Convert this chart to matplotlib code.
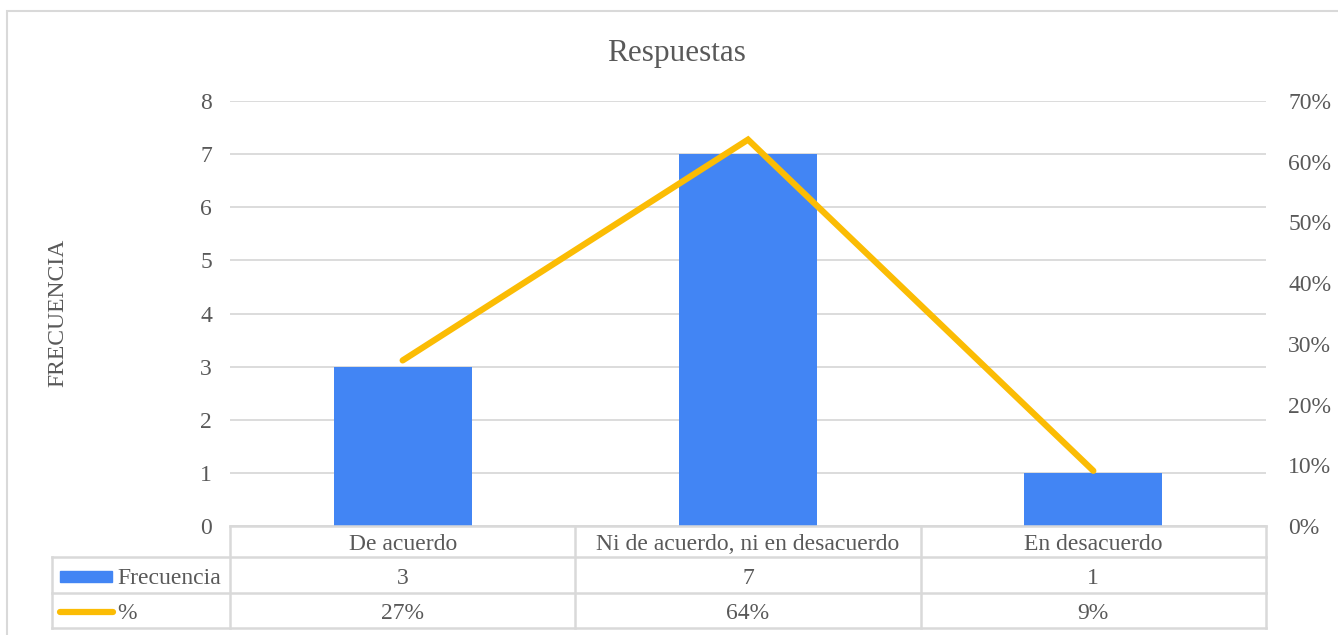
import matplotlib
matplotlib.use("Agg")
import matplotlib.pyplot as plt
from matplotlib.lines import Line2D
from matplotlib.patches import Rectangle
from matplotlib.ticker import PercentFormatter
from matplotlib.transforms import blended_transform_factory

# Survey responses
categories = ["De acuerdo", "Ni de acuerdo, ni en desacuerdo", "En desacuerdo"]
frecuencia = [3, 7, 1]
porcentaje = [3 / 11, 7 / 11, 1 / 11]
pct_labels = ["27%", "64%", "9%"]

W, H = 1338, 635
plt.rcParams["font.family"] = ["Liberation Serif", "DejaVu Serif"]
TXT = "#595959"
GRID = "#D9D9D9"
BLUE = "#4285F4"
GOLD = "#FBBC04"

fig = plt.figure(figsize=(W / 100, H / 100), dpi=100)


def fx(px):
    return px / W


def fy(py):
    return 1 - py / H


# Plot area
left, right, top, bottom = 230, 1266, 101, 526
ax = fig.add_axes([fx(left), fy(bottom), fx(right - left), (bottom - top) / H])
x = list(range(len(categories)))
ax.bar(x, frecuencia, width=0.4, color=BLUE, zorder=3)
ax.set_xlim(-0.5, len(categories) - 0.5)
ax.set_ylim(0, 8)
ax.set_yticks(range(0, 9))
ax.grid(axis="y", color=GRID, linewidth=1.3, zorder=0)
ax.set_xticks([])
for s in ax.spines.values():
    s.set_visible(False)
ax.tick_params(axis="y", length=0, labelsize=17, labelcolor=TXT, pad=13)

ax2 = ax.twinx()
ax2.plot(x, porcentaje, color=GOLD, linewidth=4.5, solid_capstyle="round",
         solid_joinstyle="miter", zorder=4)
ax2.set_ylim(0, 0.7)
ax2.set_yticks([i / 10 for i in range(8)])
ax2.yaxis.set_major_formatter(PercentFormatter(1.0, decimals=0))
for s in ax2.spines.values():
    s.set_visible(False)
ax2.tick_params(axis="y", length=0, labelsize=17, labelcolor=TXT, pad=16)

fig.text(fx(58), fy(313), "FRECUENCIA", rotation=90, ha="center",
         va="center", fontsize=17, color=TXT)

fig.text(0.5 + fx(8), fy(54), "Respuestas", ha="center", va="center",
         fontsize=22.5, color=TXT)

# Outer chart border
fig.patches.append(Rectangle((fx(7), fy(645)), fx(1345 - 7), (645 - 11) / H,
                             transform=fig.transFigure, fill=False,
                             edgecolor=GRID, linewidth=1.5))

# Data table below the plot
row_cat, row_f, row_p, row_end = 526, 557, 593, 628
tleft = 52
col_edges = [left + i * (right - left) / len(categories) for i in range(len(categories) + 1)]


def hline(y, x0, x1):
    fig.add_artist(Line2D([fx(x0), fx(x1)], [fy(y), fy(y)], color=GRID,
                          linewidth=1.8, transform=fig.transFigure))


def vline(xp, y0, y1):
    fig.add_artist(Line2D([fx(xp), fx(xp)], [fy(y0), fy(y1)], color=GRID,
                          linewidth=1.8, transform=fig.transFigure))


hline(row_cat, left, right)
for yy in (row_f, row_p, row_end):
    hline(yy, tleft, right)
for xe in col_edges:
    vline(xe, row_cat, row_end)
vline(tleft, row_f, row_end)

shift = 3  # nudge table text down slightly within its rows
bt = blended_transform_factory(ax.transData, fig.transFigure)
for i, cat in enumerate(categories):
    fig.text(i, fy((row_cat + row_f) / 2 + shift), cat, transform=bt,
             ha="center", va="center", fontsize=17, color=TXT)
    fig.text(i, fy((row_f + row_p) / 2 + shift), str(frecuencia[i]),
             transform=bt, ha="center", va="center", fontsize=17, color=TXT)
    fig.text(i, fy((row_p + row_end) / 2 + shift), pct_labels[i],
             transform=bt, ha="center", va="center", fontsize=17, color=TXT)

# Legend keys in the table's first column
fig.patches.append(Rectangle((fx(60), fy(582)), fx(52), 11 / H,
                             transform=fig.transFigure, color=BLUE))
fig.text(fx(117), fy((row_f + row_p) / 2 + shift), "Frecuencia", ha="left",
         va="center", fontsize=17, color=TXT)
fig.add_artist(Line2D([fx(60), fx(113)], [fy(612), fy(612)], color=GOLD,
                      linewidth=4.5, solid_capstyle="round",
                      transform=fig.transFigure))
fig.text(fx(117), fy((row_p + row_end) / 2 + shift), "%", ha="left",
         va="center", fontsize=17, color=TXT)

fig.savefig("out.png", dpi=100)
